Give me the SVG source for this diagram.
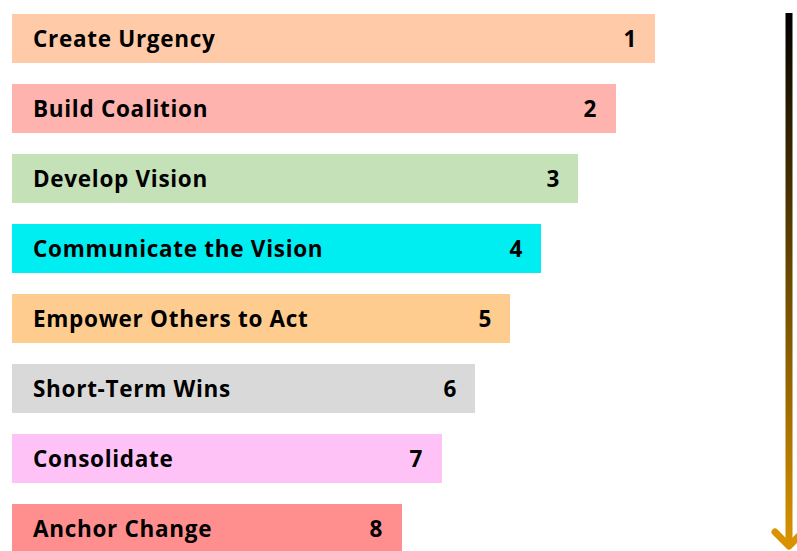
<svg xmlns="http://www.w3.org/2000/svg" width="797" height="551" viewBox="0 0 797 551">
<defs>
<linearGradient id="g" x1="0" y1="13" x2="0" y2="545" gradientUnits="userSpaceOnUse">
<stop offset="0" stop-color="#000000"/>
<stop offset="1" stop-color="#d99300"/>
</linearGradient>
<style>
.lbl{font-family:"Open Sans","Liberation Sans",sans-serif;font-weight:bold;font-size:22.5px;letter-spacing:0.7px;fill:#000}
.num{font-family:"Open Sans","Liberation Sans",sans-serif;font-weight:bold;font-size:22.5px;fill:#000;text-anchor:middle}
</style>
</defs>
<rect width="797" height="551" fill="#ffffff"/>
<g id="n1"><rect x="12" y="14" width="643" height="49" fill="#FFCAA8"/><text class="lbl" x="33" y="47">Create Urgency</text><text class="num" x="630" y="47">1</text></g>
<g id="n2"><rect x="12" y="84" width="604" height="49" fill="#FFB3AE"/><text class="lbl" x="33" y="117">Build Coalition</text><text class="num" x="590" y="117">2</text></g>
<g id="n3"><rect x="12" y="154" width="566" height="49" fill="#C5E1B8"/><text class="lbl" x="33" y="187">Develop Vision</text><text class="num" x="553" y="187">3</text></g>
<g id="n4"><rect x="12" y="224" width="529" height="49" fill="#00EEF2"/><text class="lbl" x="33" y="257">Communicate the Vision</text><text class="num" x="516" y="257">4</text></g>
<g id="n5"><rect x="12" y="294" width="498" height="49" fill="#FFCC8F"/><text class="lbl" x="33" y="327">Empower Others to Act</text><text class="num" x="485" y="327">5</text></g>
<g id="n6"><rect x="12" y="364" width="463" height="49" fill="#D9D9D9"/><text class="lbl" x="33" y="397">Short-Term Wins</text><text class="num" x="450" y="397">6</text></g>
<g id="n7"><rect x="12" y="434" width="430" height="49" fill="#FFC2F7"/><text class="lbl" x="33" y="467">Consolidate</text><text class="num" x="416" y="467">7</text></g>
<g id="n8"><rect x="12" y="504" width="390" height="49" fill="#FF8F8F"/><text class="lbl" x="33" y="537">Anchor Change</text><text class="num" x="376" y="537">8</text></g>
<g id="connectors">
<line x1="789" y1="13" x2="789" y2="544" stroke="url(#g)" stroke-width="7"/>
<polyline points="775,532 789,546 803,532" fill="none" stroke="#d99300" stroke-width="7" stroke-linecap="round" stroke-linejoin="round"/>
</g>
</svg>
